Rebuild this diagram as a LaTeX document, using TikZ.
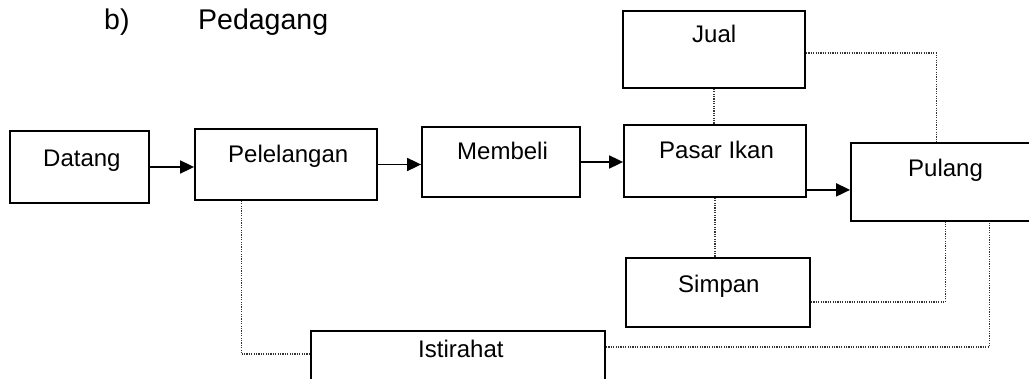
\documentclass[tikz,border=0pt]{standalone}
\usepackage{fontspec}
\setmainfont{Liberation Sans}
\usetikzlibrary{arrows.meta,calc}
\begin{document}
\begin{tikzpicture}[x=1pt,y=-1pt,
  box/.style={draw,line width=1.8pt,inner sep=0pt},
  txt/.style={anchor=base west,inner sep=0pt,font=\fontsize{24}{28}\selectfont},
  ttl/.style={anchor=base west,inner sep=0pt,font=\fontsize{28.5}{32}\selectfont},
  arr/.style={line width=1.8pt,-{Triangle[length=14pt,width=13pt]}},
  dotline/.style={line width=1.2pt,dash pattern=on 1.2pt off 1.2pt,black!80}]
\useasboundingbox (0,0) rectangle (1029,379);
\clip (0,0) rectangle (1029,379);
% boxes
\node[box,minimum width=139pt,minimum height=72pt] (datang) at (79.5,167) {};
\node[box,minimum width=182pt,minimum height=71pt] (pelelangan) at (286,164.5) {};
\node[box,minimum width=158pt,minimum height=70pt] (membeli) at (501,162) {};
\node[box,minimum width=182pt,minimum height=72pt] (pasar) at (715,161) {};
\node[box,minimum width=182pt,minimum height=77pt] (jual) at (714,49.5) {};
\node[box,minimum width=194pt,minimum height=78pt] (pulang) at (948,182) {};
\node[box,minimum width=184pt,minimum height=69pt] (simpan) at (718,292.5) {};
\node[box,minimum width=294pt,minimum height=59pt] (istirahat) at (458,360.5) {};
% texts
\node[ttl] (tb) at (104,30) {b)};
\node[ttl] (tpedagang) at (198,30) {Pedagang};
\node[txt] (tdatang) at (43,167) {Datang};
\node[txt] (tpelelangan) at (228,163) {Pelelangan};
\node[txt] (tmembeli) at (457,160) {Membeli};
\node[txt] (tpasar) at (659,159) {Pasar Ikan};
\node[txt] (tjual) at (692,43) {Jual};
\node[txt] (tpulang) at (908,177) {Pulang};
\node[txt] (tsimpan) at (678,293) {Simpan};
\node[txt] (tistirahat) at (418,358) {Istirahat};
% solid arrows
\coordinate (pasarout) at ($(pasar.south east)+(0,-8)$);
\draw[arr] (datang.east) -- (datang.east -| pelelangan.west);
\draw[arr] (pelelangan.east) -- (pelelangan.east -| membeli.west);
\draw[arr] (membeli.east) -- (membeli.east -| pasar.west);
\draw[arr] (pasarout) -- (pasarout -| pulang.west);
% dotted links
\coordinate (jualout) at ($(jual.east)+(0,3.5)$);
\coordinate (jualin) at ($(pulang.north west)+(86,0)$);
\coordinate (simpanout) at ($(simpan.east)+(0,9.5)$);
\coordinate (simpanin) at ($(pulang.south west)+(95,0)$);
\coordinate (istout) at ($(istirahat.east)+(0,-13.5)$);
\coordinate (istin) at ($(pulang.south west)+(139,0)$);
\coordinate (pelout) at ($(pelelangan.south west)+(47,0)$);
\coordinate (istleft) at ($(istirahat.west)+(0,-6.5)$);
\draw[dotline] (jual.south) -- (jual.south |- pasar.north);
\draw[dotline] (pasar.south) -- (pasar.south |- simpan.north);
\draw[dotline] (jualout) -| (jualin);
\draw[dotline] (simpanout) -| (simpanin);
\draw[dotline] (istout) -| (istin);
\draw[dotline] (pelout) |- (istleft);
\end{tikzpicture}
\end{document}
